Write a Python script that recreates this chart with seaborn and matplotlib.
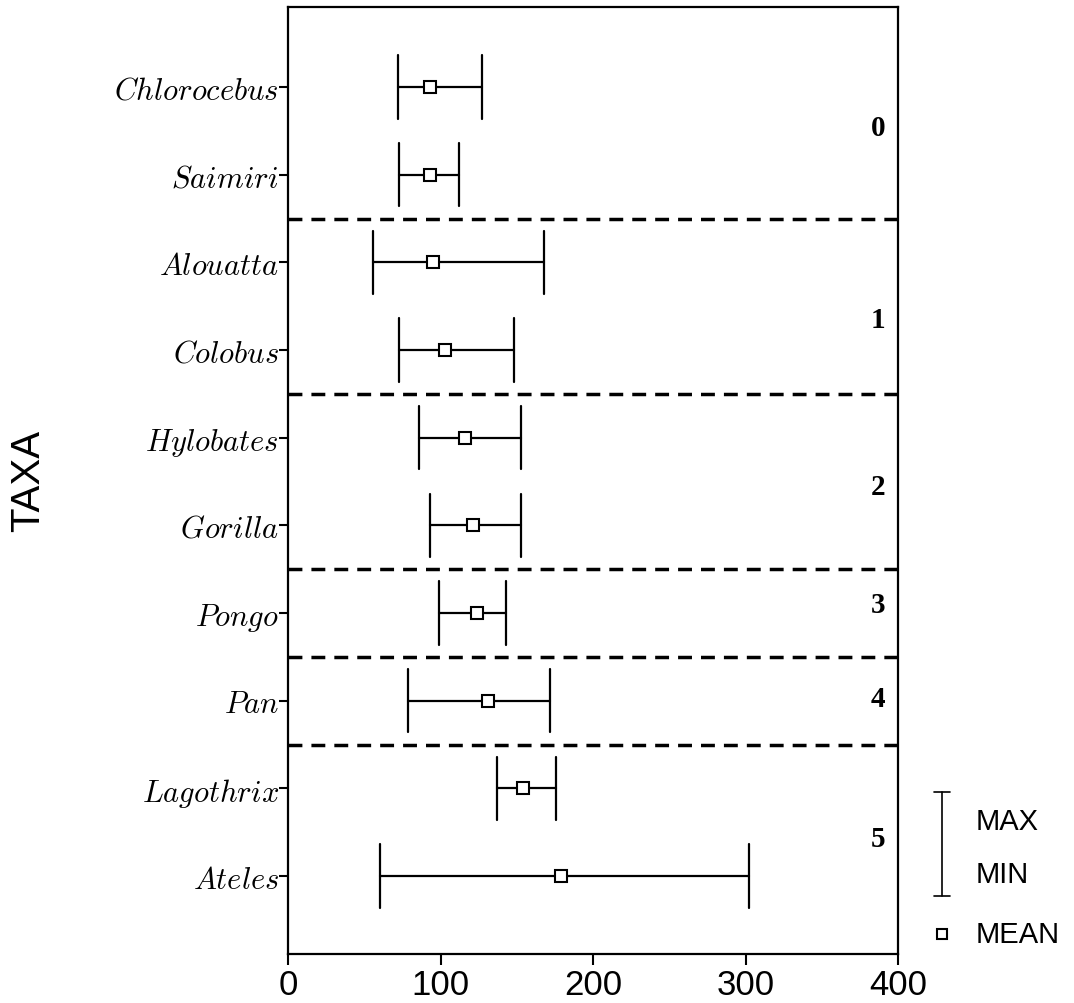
import numpy as np
import pandas as pd
import matplotlib
matplotlib.use('Agg')
import matplotlib.pyplot as plt
import seaborn as sns
from matplotlib.lines import Line2D

# --- Data ---
taxa = ['Chlorocebus', 'Saimiri', 'Alouatta', 'Colobus', 'Hylobates',
        'Gorilla', 'Pongo', 'Pan', 'Lagothrix', 'Ateles']
val_min = [72, 73, 56, 73, 86, 93, 99, 79, 137, 60]
val_mean = [93, 93, 95, 103, 116, 121, 124, 131, 154, 179]
val_max = [127, 112, 168, 148, 153, 153, 143, 172, 176, 302]

groups = ['0', '1', '2', '3', '4', '5']
group_pos = [0.46, 2.65, 4.56, 5.9, 6.98, 8.57]   # y-centre of each group label
group_breaks = [1.5, 3.5, 5.5, 6.5, 7.5]

x_ticks = [0, 100, 200, 300, 400]

# long table: min / mean / max per taxon -> median = mean, 100% interval = min..max
rows = []
for t, a, m, b in zip(taxa, val_min, val_mean, val_max):
    for v in (a, m, b):
        rows.append({'taxon': t, 'value': v})
df = pd.DataFrame(rows)

sns.set_style('ticks')
plt.rcParams['mathtext.fontset'] = 'cm'
plt.rcParams['text.color'] = 'black'
plt.rcParams['axes.labelcolor'] = 'black'
plt.rcParams['xtick.color'] = 'black'
plt.rcParams['ytick.color'] = 'black'

fig = plt.figure(figsize=(10.74, 10.04), dpi=100)
ax = fig.add_axes([288 / 1074, 1 - 955 / 1004, 610 / 1074, 947 / 1004])

sns.pointplot(data=df, x='value', y='taxon', order=taxa,
              estimator='median', errorbar=('pi', 100),
              linestyle='none', markers='s', color='black',
              capsize=0.72,
              err_kws={'linewidth': 1.6, 'color': 'black', 'zorder': 2},
              markersize=9, markerfacecolor='white', markeredgecolor='black',
              markeredgewidth=1.5, zorder=5, ax=ax)

# group separators
for yb in group_breaks:
    ax.axhline(yb, color='black', linewidth=2.5, linestyle=(0, (4, 2.6)), zorder=1)

# group numbers
for g, yp in zip(groups, group_pos):
    ax.text(387, yp, g, ha='center', va='center', fontsize=21,
            fontweight='bold', family='Liberation Serif', color='black')

ax.set_xlim(0, 400)
ax.set_ylim(9.889, -0.9125)
ax.set_xticks(x_ticks)
ax.set_xticklabels([str(v) for v in x_ticks], fontsize=25,
                   family=['Liberation Sans Narrow', 'Liberation Sans'])
ax.set_yticks(range(len(taxa)))
ax.set_yticklabels([f'${t}$' for t in taxa], fontsize=22)
ax.tick_params(axis='y', length=6.5, width=1.5, pad=0, colors='black')
ax.tick_params(axis='x', length=8, width=1.5, pad=2, colors='black')

ax.set_xlabel('')
ax.set_ylabel('TAXA', fontsize=29, family='Liberation Sans', va='center',
              color='black')
ax.yaxis.set_label_coords((28.5 - 288) / 610, (955 - 481) / 947)

for s in ax.spines.values():
    s.set_visible(True)
    s.set_linewidth(1.6)
    s.set_color('black')

# --- hand-made legend on the right ---
def fx(px):
    return px / 1074

def fy(py):
    return 1 - py / 1004

lx = 942
fig.add_artist(Line2D([fx(lx), fx(lx)], [fy(793), fy(897)], color='black', lw=1.2))
for yy in (793, 897):
    fig.add_artist(Line2D([fx(lx - 8), fx(lx + 8)], [fy(yy), fy(yy)], color='black', lw=1.2))
fig.add_artist(Line2D([fx(lx)], [fy(935)], marker='s', markersize=7,
                      markerfacecolor='white', markeredgecolor='black',
                      markeredgewidth=1.5, linestyle='none'))
for label, yy in (('MAX', 822), ('MIN', 875), ('MEAN', 935)):
    fig.text(fx(976), fy(yy), label, ha='left', va='center', fontsize=21,
             family='Liberation Sans', color='black')

fig.savefig('out.png', dpi=100)
